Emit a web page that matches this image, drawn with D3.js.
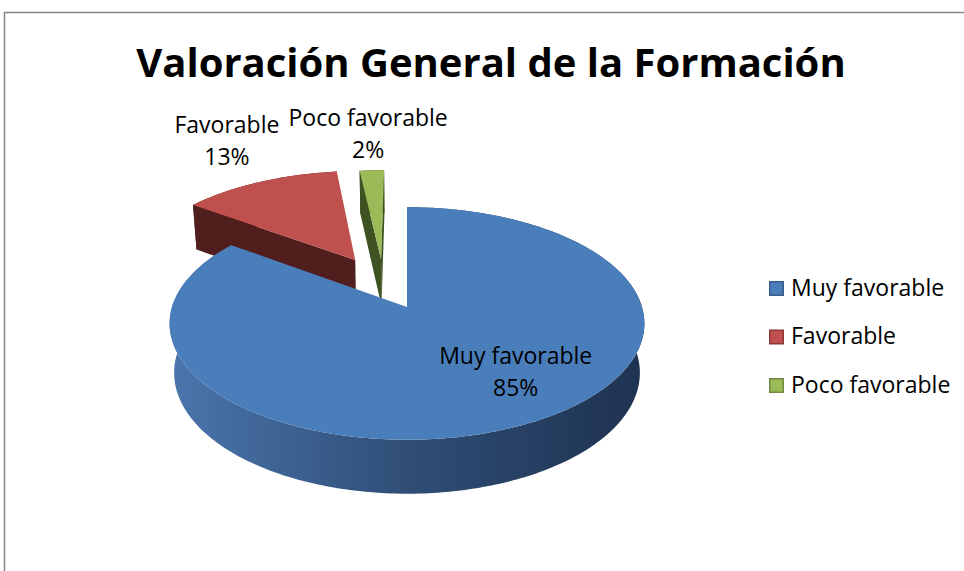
<!DOCTYPE html>
<html>
<head>
<meta charset="utf-8">
<script src="https://cdn.jsdelivr.net/npm/d3@7"></script>
<style>
  body { margin: 0; background: #fff; }
  text { font-family: "Open Sans", "DejaVu Sans", sans-serif; fill: #000; }
</style>
</head>
<body>
<div id="chart"></div>
<script>
const title = "Valoración General de la Formación";
const categories = ["Muy favorable", "Favorable", "Poco favorable"];
const values = [85, 13, 2];
const topColors = ["#4a7ebb", "#c0504d", "#9bbb59"];
const sideColors = ["#2f4e78", "#501e1d", "#3f5222"];
const legendStroke = ["#385d8a", "#8c3836", "#71893f"];

// 3d layout (world units are pixels at the centre plane)
const W = 964, H = 571;
const cx = 407, cy = 307, R = 235, depth = 57;
const tilt = 29 * Math.PI / 180, camDist = 1450;
const explode = [[0, 0], [-55, 103], [-27.6, 105]];
const labelLayout = [{r: 0.68, da: -12}, {r: 1.58, da: 3}, {r: 1.485, da: 0}];

const svg = d3.select("#chart").append("svg")
    .attr("width", W)
    .attr("height", H);

const defs = svg.append("defs");
const grad = defs.append("linearGradient")
    .attr("id", "blueSide")
    .attr("gradientUnits", "userSpaceOnUse")
    .attr("x1", cx - R - 5).attr("x2", cx + R + 10)
    .attr("y1", 0).attr("y2", 0);
grad.append("stop").attr("offset", 0).attr("stop-color", "#4b76ad");
grad.append("stop").attr("offset", 0.5).attr("stop-color", "#2f4d76");
grad.append("stop").attr("offset", 1).attr("stop-color", "#1e314f");

// frame
svg.append("path")
    .attr("d", "M4.5," + H + "V12.5H" + W)
    .attr("fill", "none")
    .attr("stroke", "#868686")
    .attr("stroke-width", 1.5);

svg.append("text")
    .attr("x", 491)
    .attr("y", 77)
    .attr("text-anchor", "middle")
    .style("font-size", "40px")
    .style("font-weight", "bold")
    .text(title);

function proj(u, v, Y) {
    const sa = Math.sin(tilt), ca = Math.cos(tilt);
    const yv = v * sa + Y * ca;
    const z = v * ca - Y * sa;
    const s = camDist / (camDist + z);
    return [cx + u * s, cy - yv * s];
}
function rim(off, ang, Y, r) {
    r = r || R;
    return proj(off[0] + r * Math.sin(ang), off[1] + r * Math.cos(ang), Y);
}
function arcPts(off, a0, a1, Y) {
    const n = Math.max(2, Math.ceil((a1 - a0) / (Math.PI / 180)));
    return d3.range(n + 1).map(k => rim(off, a0 + (a1 - a0) * k / n, Y));
}
function area(p) {
    let s = 0;
    for (let i = 0; i < p.length; i++) {
        const q = p[(i + 1) % p.length];
        s += p[i][0] * q[1] - q[0] * p[i][1];
    }
    return s;
}
const line = d3.line();

const arcs = d3.pie().sort(null).value(d => d)(values);
arcs.forEach((a, i) => { a.i = i; a.off = explode[i]; });

// far slices first
const order = arcs.slice().sort((a, b) => b.off[1] - a.off[1]);
const g = svg.append("g");

order.forEach(a => {
    const off = a.off, i = a.i;
    const sg = g.append("g");
    // outer side band
    const band = arcPts(off, a.startAngle, a.endAngle, 0)
        .concat(arcPts(off, a.startAngle, a.endAngle, -depth).reverse());
    sg.append("path")
        .attr("d", line(band) + "Z")
        .attr("fill", i == 0 ? "url(#blueSide)" : sideColors[i]);
    // radial faces
    [[a.startAngle, -1], [a.endAngle, 1]].forEach(f => {
        const quad = [proj(off[0], off[1], 0), rim(off, f[0], 0), rim(off, f[0], -depth), proj(off[0], off[1], -depth)];
        if (area(quad) * f[1] > 0) {
            sg.append("path")
                .attr("d", line(quad) + "Z")
                .attr("fill", sideColors[i]);
        }
    });
    // top
    const top = [proj(off[0], off[1], 0)].concat(arcPts(off, a.startAngle, a.endAngle, 0));
    sg.append("path")
        .attr("d", line(top) + "Z")
        .attr("fill", topColors[i]);
});

// data labels
const total = d3.sum(values);
arcs.forEach(a => {
    const lay = labelLayout[a.i];
    const mid = (a.startAngle + a.endAngle) / 2 + lay.da * Math.PI / 180;
    const p = rim(a.off, mid, 0, lay.r * R);
    const t = svg.append("text")
        .attr("text-anchor", "middle")
        .style("font-size", "23px");
    t.append("tspan").attr("x", p[0]).attr("y", p[1] - 8).text(categories[a.i]);
    t.append("tspan").attr("x", p[0]).attr("dy", 32).text(Math.round(a.value / total * 100) + "%");
});

// legend
const legend = svg.append("g").attr("transform", "translate(769,281)");
categories.forEach((c, i) => {
    const row = legend.append("g").attr("transform", "translate(0," + (i * 48.5) + ")");
    row.append("rect")
        .attr("x", 0.75).attr("y", 0.75)
        .attr("width", 13.5).attr("height", 13.5)
        .attr("fill", topColors[i])
        .attr("stroke", legendStroke[i])
        .attr("stroke-width", 1.5);
    row.append("text")
        .attr("x", 22)
        .attr("y", 14.5)
        .style("font-size", "23px")
        .text(c);
});
</script>
</body>
</html>
